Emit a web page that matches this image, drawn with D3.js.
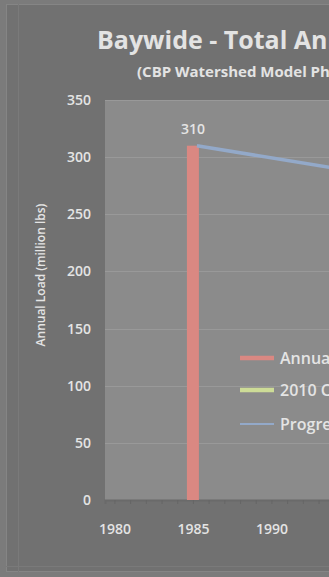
<!DOCTYPE html>
<html>
<head>
<meta charset="utf-8">
<script src="https://cdn.jsdelivr.net/npm/d3@7"></script>
<style>
  html, body { margin: 0; padding: 0; background: #7b7b7b; overflow: hidden; }
  svg { display: block; }
</style>
</head>
<body>
<svg id="chart" width="329" height="577"></svg>
<script>
// Annual load bars
const barYears = [1985];
const barLoads = [310];
// Progress trend line
const trendYears = [1985, 2009];
const trendLoads = [310, 256];
// Axis ticks
const yTicks = [0, 50, 100, 150, 200, 250, 300, 350];
const xTicks = [1980, 1985, 1990, 1995, 2000, 2005, 2010];
// Legend entries
const legendNames = ["Annual Load", "2010 Cap Load", "Progress Trend"];
const legendColors = ["#da8882", "#cddc97", "#93a9c9"];

const titleText = "Baywide - Total Annual Nitrogen Loads";
const subtitleText = "(CBP Watershed Model Phase 5.3)";
const yTitle = "Annual Load (million lbs)";

const svg = d3.select("#chart");
const font = "'Open Sans', sans-serif";
const textColor = "#e4e4e4";

// chart frame
svg.append("rect").attr("x", 6.5).attr("y", 4.5).attr("width", 340).attr("height", 567)
  .attr("fill", "#717171").attr("stroke", "#858585");
svg.append("line").attr("x1", 18.5).attr("x2", 18.5).attr("y1", 4).attr("y2", 572)
  .attr("stroke", "#7a7a7a");
svg.append("line").attr("x1", 6).attr("x2", 340).attr("y1", 566.5).attr("y2", 566.5)
  .attr("stroke", "#7a7a7a");

const plot = { left: 105, top: 100, bottom: 500 };
const x = d3.scaleLinear().domain([1979.4, 2012]).range([plot.left, plot.left + 32.6 * 15.7]);
const y = d3.scaleLinear().domain([0, 350]).range([plot.bottom, plot.top]);

// plot area
svg.append("rect").attr("x", plot.left).attr("y", plot.top)
  .attr("width", 400).attr("height", plot.bottom - plot.top)
  .attr("fill", "#8b8b8b");

// gridlines
svg.append("g").selectAll("line").data(yTicks.filter(d => d > 0)).join("line")
  .attr("x1", plot.left).attr("x2", 329)
  .attr("y1", d => Math.round(y(d)) + 0.5).attr("y2", d => Math.round(y(d)) + 0.5)
  .attr("stroke", "#999999").attr("stroke-width", 1);

// y axis labels
const yAxis = d3.axisLeft(y).tickValues(yTicks).tickSize(0).tickPadding(14);
const gy = svg.append("g").attr("transform", `translate(${plot.left},0)`).call(yAxis);
gy.select(".domain").remove();
gy.selectAll("text").attr("fill", textColor).attr("font-family", font)
  .attr("font-size", 14).attr("font-weight", "600");

// x axis with yearly minor ticks
const xAxisMinor = d3.axisBottom(x).tickValues(d3.range(1980, 2012)).tickSize(4).tickFormat("");
const gxm = svg.append("g").attr("transform", `translate(0,${plot.bottom})`).call(xAxisMinor);
gxm.select(".domain").attr("stroke", "#6a6a6a").attr("stroke-width", 2);
gxm.selectAll(".tick line").attr("stroke", "#666");

const xAxis = d3.axisBottom(x).tickValues(xTicks).tickSize(0).tickPadding(24).tickFormat(d3.format("d"));
const gx = svg.append("g").attr("transform", `translate(0,${plot.bottom})`).call(xAxis);
gx.select(".domain").remove();
gx.selectAll("text").attr("fill", textColor).attr("font-family", font)
  .attr("font-size", 14).attr("font-weight", "600");

// bars
const barW = 12;
svg.append("g").selectAll("rect").data(barYears).join("rect")
  .attr("x", (d) => x(d) - barW / 2)
  .attr("y", (d, i) => y(barLoads[i]))
  .attr("width", barW)
  .attr("height", (d, i) => y(0) - y(barLoads[i]))
  .attr("fill", legendColors[0]);

// bar labels
svg.append("g").selectAll("text").data(barYears).join("text")
  .attr("x", d => x(d))
  .attr("y", (d, i) => y(barLoads[i]) - 12)
  .attr("text-anchor", "middle")
  .attr("fill", textColor).attr("font-family", font).attr("font-size", 14).attr("font-weight", "600")
  .text((d, i) => barLoads[i]);

// progress trend
const line = d3.line().x(d => d[0]).y(d => d[1]);
svg.append("path")
  .datum(trendYears.map((yr, i) => [x(yr) + 4, y(trendLoads[i])]))
  .attr("d", line)
  .attr("fill", "none").attr("stroke", legendColors[2]).attr("stroke-width", 3.5);

// legend
const lg = svg.append("g").attr("transform", "translate(240,358)");
const lgStroke = [4.5, 4.5, 2];
legendNames.forEach((name, i) => {
  const gyy = [0, 32, 66][i];
  lg.append("line").attr("x1", 0).attr("x2", 34).attr("y1", gyy).attr("y2", gyy)
    .attr("stroke", legendColors[i]).attr("stroke-width", lgStroke[i]);
  lg.append("text").attr("x", 40).attr("y", gyy + 5.5)
    .attr("fill", textColor).attr("font-family", font).attr("font-size", 16).attr("font-weight", "600")
    .text(name);
});

// titles
svg.append("text").attr("x", 97).attr("y", 49)
  .attr("fill", "#e3e3e3").attr("font-family", font).attr("font-size", 25).attr("font-weight", "bold")
  .text(titleText);
svg.append("text").attr("x", 137).attr("y", 77)
  .attr("fill", "#e3e3e3").attr("font-family", font).attr("font-size", 15).attr("font-weight", "bold")
  .text(subtitleText);

svg.append("text")
  .attr("transform", "translate(45,275) rotate(-90)")
  .attr("text-anchor", "middle")
  .attr("fill", textColor).attr("font-family", font).attr("font-size", 12).attr("font-weight", "600")
  .text(yTitle);
</script>
</body>
</html>
